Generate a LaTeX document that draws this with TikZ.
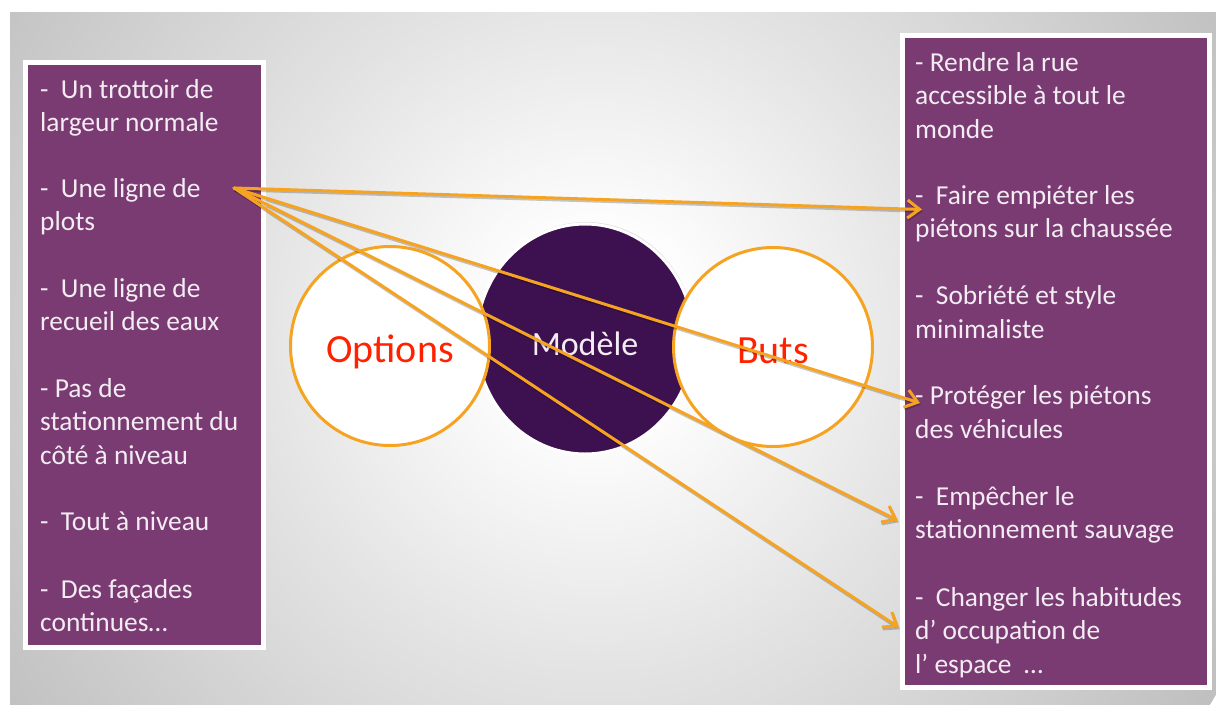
\documentclass[tikz,border=0pt]{standalone}
\usepackage{fontspec}
\setmainfont{Carlito}
\usetikzlibrary{arrows.meta,shadows,calc,shapes.geometric}
\definecolor{boxpurple}{RGB}{122,59,114}
\definecolor{darkpurple}{RGB}{61,16,80}
\definecolor{lineorange}{RGB}{246,163,33}
\definecolor{labelred}{RGB}{255,34,0}
\definecolor{itemtext}{RGB}{243,236,243}
\pgfdeclareradialshading{bgshade}{\pgfpoint{0bp}{0bp}}{color(0bp)=(white); color(3bp)=(white); color(12bp)=(black!11); color(25bp)=(black!25); color(50bp)=(black!25)}
\begin{document}
\begin{tikzpicture}[x=1pt,y=-1pt,
  lbl/.style={font=\fontsize{27.4}{33.4}\selectfont, text=itemtext, align=left, inner sep=0pt, anchor=north west},
  rlbl/.style={lbl, font=\fontsize{27.4}{33.6}\selectfont},
  panel/.style={fill=boxpurple, draw=white, line width=5pt,
    drop shadow={opacity=0.3, shadow xshift=2pt, shadow yshift=3pt}},
  side/.style={circle, fill=white, draw=lineorange, line width=3pt, minimum size=199pt, inner sep=0pt,
    font=\fontsize{40}{48}\selectfont, text=labelred, text height=32pt, text depth=0pt},
  core/.style={ellipse, fill=darkpurple, draw=white, line width=3pt, minimum width=217pt, minimum height=230pt,
    inner sep=0pt, font=\fontsize{34}{40}\selectfont, text=itemtext, text height=32pt, text depth=0pt,
    drop shadow={opacity=0.25, shadow xshift=1pt, shadow yshift=2pt}},
  arr/.style={draw=lineorange, line width=3pt, line cap=round,
    -{Straight Barb[length=12pt,width=18pt]},
    preaction={draw=black, opacity=0.22, line width=3pt, transform canvas={xshift=0.8pt,yshift=-1.8pt}}}]
\useasboundingbox (0,0) rectangle (1216,705);
\fill[white] (0,0) rectangle (1216,705);
\begin{scope}
  \clip (10,12) rectangle (1216,704);
  \shade[shading=bgshade] (595,330) circle (720);
\end{scope}
% panels
\draw[panel] (25.5,62.5) rectangle (263.5,647.5);
\draw[panel] (902.5,35.5) rectangle (1209.5,687.5);
% circles
\node[core] (mod) at (585,339) {Modèle};
\node[side] (opt) at (390,346) {Options};
\node[side] (but) at (773,347) {Buts};
% left items
\node[lbl] (L1) at (40,75) {\strut-\ \ Un trottoir de\\largeur normale};
\node[lbl] (L2) at (40,174) {\strut-\ \ Une ligne de\\plots};
\node[lbl] (L3) at (40,274) {\strut-\ \ Une ligne de\\recueil des eaux};
\node[lbl] (L4) at (40,374) {\strut- Pas de\\stationnement du\\côté à niveau};
\node[lbl] (L5) at (40,507) {\strut-\ \ Tout à niveau};
\node[lbl] (L6) at (40,575) {\strut-\ \ Des façades\\continues…};
% right items
\node[rlbl] (R1) at (915,47.5) {\strut- Rendre la rue\\accessible à tout le\\monde};
\node[rlbl] (R2) at (915,180.5) {\strut-\ \ Faire empiéter les\\piétons sur la chaussée};
\node[rlbl] (R3) at (915,281) {\strut-\ \ Sobriété et style\\minimaliste};
\node[rlbl] (R4) at (915,381) {\strut- Protéger les piétons\\des véhicules};
\node[rlbl] (R5) at (915,481.5) {\strut-\ \ Empêcher le\\stationnement sauvage};
\node[rlbl] (R6) at (915,582.5) {\strut-\ \ Changer les habitudes\\d’ occupation de\\l’ espace\ \ …};
% connectors
\coordinate (src) at ($(L2.north west)+(194,14)$);
\draw[arr] (src) -- ($(R2.north west)+(7,29)$);
\draw[arr] (src) -- ($(R4.north west)+(5,22)$);
\draw[arr] (src) -- ($(R5.north west)+(-17,39)$);
\draw[arr] (src) -- ($(R6.north west)+(-16,45)$);
\end{tikzpicture}
\end{document}
